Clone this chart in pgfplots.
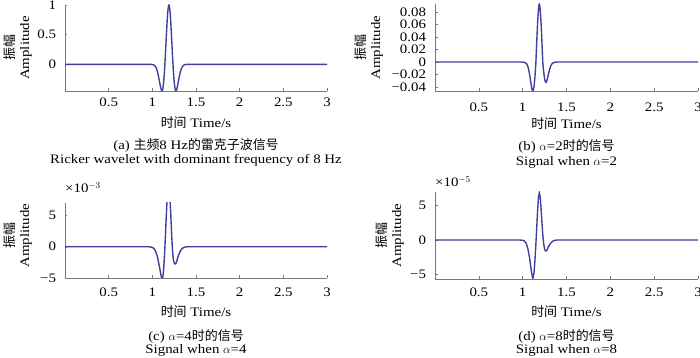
\documentclass[border=0pt]{standalone}
\usepackage{pgfplots}
\pgfplotsset{compat=1.18}
\usepackage{fontspec}
\setmainfont{Liberation Serif}[FakeStretch=1.15]
\newfontfamily\cjk{Noto Sans CJK SC}
\definecolor{wave}{RGB}{64,64,156}
\definecolor{axgray}{RGB}{120,120,120}
\newcommand{\fs}{\fontsize{13}{15}\selectfont}
\pgfplotsset{
  myax/.style={
    scale only axis,
    axis lines=left,
    axis line style={-, axgray, line width=0.7pt},
    tick align=inside,
    major tick length=2.5bp,
    tick style={axgray, line width=0.5pt},
    xmin=0, xmax=3,
    scaled x ticks=false, scaled y ticks=false,
    xtick={0.5,1,1.5,2,2.5,3},
    xticklabels={0.5,1,1.5,2,2.5,3},
    tick label style={font=\fs, black},
    xticklabel style={anchor=base},
    yticklabel style={anchor=east, xshift=-5.5bp},
    label style={font=\fs},
    xlabel={{\cjk 时间} Time/s},
    xlabel style={at={(axis description cs:0.5,0)}, anchor=center},
    ylabel={{\cjk 振幅}\\Amplitude},
    ylabel style={at={(axis description cs:0,0.5)}, anchor=center, align=center},
    clip mode=individual,
  },
  wv/.style={wave, line width=1.4bp, no markers},
}
\begin{document}
\begin{tikzpicture}
\useasboundingbox (0,0) rectangle (700bp,358bp);
% (a)
\begin{axis}[myax, at={(65bp,267bp)}, anchor=south west, width=262bp, height=86bp,
  ymin=-0.45, ymax=1.0, ytick={0,0.5,1}, yticklabels={0,0.5,1},
  xticklabel style={yshift=-16bp}, xlabel style={yshift=-32bp},
  ylabel style={yshift=47.5bp}]
\addplot[wv] coordinates {(0,0) (0.95,0) (0.97,-0.0003) (0.99,-0.0015) (1.00,-0.0034) (1.01,-0.0072) (1.02,-0.0145) (1.03,-0.0275) (1.04,-0.0492) (1.05,-0.0832) (1.06,-0.1323) (1.07,-0.1974) (1.08,-0.2748) (1.09,-0.3542) (1.10,-0.4194) (1.105,-0.4392) (1.11,-0.4463) (1.115,-0.4378) (1.12,-0.411) (1.13,-0.2951) (1.14,-0.0950) (1.15,0.1726) (1.16,0.4687) (1.17,0.740) (1.175,0.8488) (1.18,0.931) (1.185,0.9826) (1.19,1) (1.195,0.9826) (1.20,0.931) (1.205,0.8488) (1.21,0.740) (1.22,0.4687) (1.23,0.1726) (1.24,-0.0950) (1.25,-0.2951) (1.26,-0.411) (1.265,-0.4378) (1.27,-0.4463) (1.275,-0.4392) (1.28,-0.4194) (1.29,-0.3542) (1.30,-0.2748) (1.31,-0.1974) (1.32,-0.1323) (1.33,-0.0832) (1.34,-0.0492) (1.35,-0.0275) (1.36,-0.0145) (1.37,-0.0072) (1.38,-0.0034) (1.39,-0.0015) (1.41,-0.0003) (1.43,0) (3,0)};
\node[font=\fs] at (rel axis cs:0.5,0) [yshift=-54bp] {(a) {\cjk 主频}8 Hz{\cjk 的雷克子波信号}};
\node[font=\fs] at (rel axis cs:0.5,0) [yshift=-69bp] {Ricker wavelet with dominant frequency of 8 Hz};
\end{axis}
% (b)
\begin{axis}[myax, at={(435bp,267bp)}, anchor=south west, width=263bp, height=87bp,
  ymin=-0.0464, ymax=0.093, ytick={-0.04,-0.02,0,0.02,0.04,0.06,0.08},
  yticklabels={−0.04,−0.02,0,0.02,0.04,0.06,0.08},
  xticklabel style={yshift=-21bp}, xlabel style={yshift=-33bp},
  ylabel style={yshift=66.5bp}]
\addplot[wv] coordinates {(0,0) (0.99,0) (1.02,-0.0005) (1.04,-0.002) (1.05,-0.004) (1.06,-0.0075) (1.07,-0.013) (1.08,-0.021) (1.09,-0.030) (1.10,-0.039) (1.11,-0.0455) (1.115,-0.0462) (1.12,-0.045) (1.13,-0.039) (1.14,-0.024) (1.15,-0.003) (1.16,0.031) (1.17,0.062) (1.18,0.084) (1.185,0.0905) (1.19,0.093) (1.195,0.0905) (1.20,0.084) (1.21,0.062) (1.22,0.031) (1.23,-0.002) (1.24,-0.016) (1.25,-0.027) (1.26,-0.032) (1.265,-0.0325) (1.27,-0.032) (1.28,-0.028) (1.29,-0.022) (1.30,-0.016) (1.31,-0.0105) (1.32,-0.0065) (1.33,-0.0038) (1.34,-0.002) (1.36,-0.0006) (1.39,0) (3,0)};
\node[font=\fs] at (rel axis cs:0.5,0) [yshift=-55bp] {(b) $\alpha$=2{\cjk 时的信号}};
\node[font=\fs] at (rel axis cs:0.5,0) [yshift=-71bp] {Signal when $\alpha$=2};
\end{axis}
% (c)
\begin{axis}[myax, at={(65bp,80bp)}, anchor=south west, width=262bp, height=75bp,
  ymin=-0.005, ymax=0.007, ytick={-0.005,0,0.005}, yticklabels={−5,0,5},
  xticklabel style={yshift=-18bp}, xlabel style={yshift=-34bp},
  ylabel style={yshift=47.5bp, xshift=5bp}]
\addplot[wv] coordinates {(0,0) (0.96,0) (0.98,-0.00005) (1.00,-0.0001) (1.02,-0.0003) (1.04,-0.0008) (1.06,-0.0017) (1.08,-0.0031) (1.10,-0.0046) (1.11,-0.0051) (1.12,-0.0049) (1.13,-0.0036) (1.14,-0.0012) (1.15,0.0018) (1.16,0.0050) (1.17,0.0078) (1.18,0.0092) (1.19,0.0094) (1.20,0.0082) (1.21,0.0056) (1.22,0.0023) (1.23,-0.0004) (1.24,-0.0020) (1.25,-0.0026) (1.26,-0.00275) (1.27,-0.00265) (1.28,-0.0023) (1.29,-0.0018) (1.30,-0.00135) (1.32,-0.0007) (1.34,-0.0003) (1.36,-0.00012) (1.38,-0.00004) (1.40,0) (3,0)};
\node[font=\fs, anchor=base west, inner sep=0pt] at (rel axis cs:0,1) [yshift=10bp] {×10$^{-3}$};
\node[font=\fs] at (rel axis cs:0.5,0) [yshift=-58bp] {(c) $\alpha$=4{\cjk 时的信号}};
\node[font=\fs] at (rel axis cs:0.5,0) [yshift=-72bp] {Signal when $\alpha$=4};
\end{axis}
% (d)
\begin{axis}[myax, at={(435bp,79bp)}, anchor=south west, width=263bp, height=87bp,
  ymin=-5.7e-5, ymax=7e-5, ytick={-5e-5,0,5e-5}, yticklabels={−5,0,5},
  xticklabel style={yshift=-17bp}, xlabel style={yshift=-33bp},
  ylabel style={yshift=45.5bp}]
\addplot[wv] coordinates {(0,0) (0.96,0) (1.00,-0.05e-5) (1.02,-0.15e-5) (1.04,-0.5e-5) (1.06,-1.3e-5) (1.08,-2.7e-5) (1.09,-3.7e-5) (1.10,-4.6e-5) (1.11,-5.3e-5) (1.115,-5.55e-5) (1.12,-5.5e-5) (1.13,-4.7e-5) (1.14,-3.0e-5) (1.15,-0.8e-5) (1.16,1.7e-5) (1.17,4.2e-5) (1.18,6.2e-5) (1.19,6.9e-5) (1.20,6.3e-5) (1.21,4.6e-5) (1.22,2.5e-5) (1.23,0.7e-5) (1.24,-0.6e-5) (1.25,-1.3e-5) (1.26,-1.6e-5) (1.27,-1.6e-5) (1.28,-1.4e-5) (1.29,-1.1e-5) (1.30,-0.85e-5) (1.32,-0.45e-5) (1.34,-0.2e-5) (1.36,-0.08e-5) (1.38,-0.03e-5) (1.40,0) (3,0)};
\node[font=\fs, anchor=base west, inner sep=0pt] at (rel axis cs:0,1) [yshift=5bp] {×10$^{-5}$};
\node[font=\fs] at (rel axis cs:0.5,0) [yshift=-57bp] {(d) $\alpha$=8{\cjk 时的信号}};
\node[font=\fs] at (rel axis cs:0.5,0) [yshift=-71bp] {Signal when $\alpha$=8};
\end{axis}
\end{tikzpicture}
\end{document}
